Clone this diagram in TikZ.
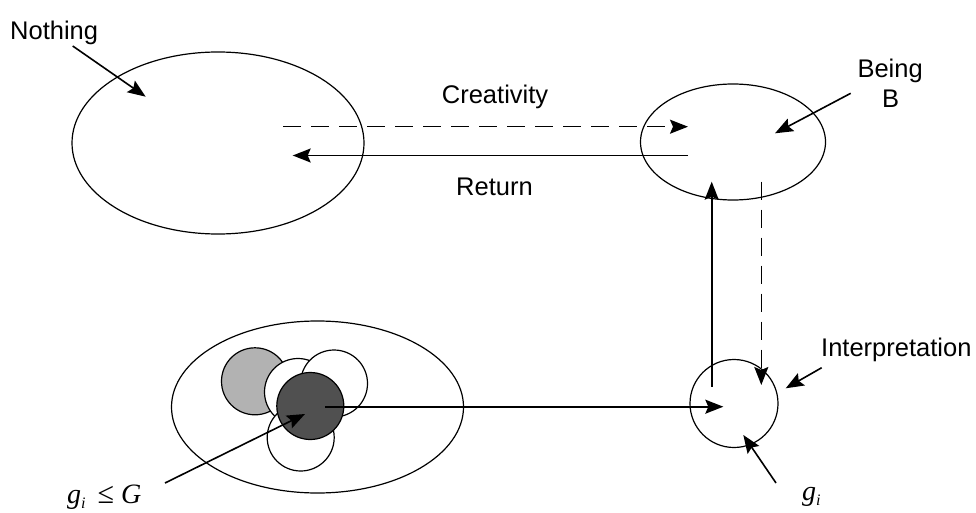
\documentclass[tikz,border=0pt]{standalone}
\usepackage{fontspec}
\setmainfont{Liberation Sans}
\newfontfamily\serifmath{Liberation Serif}
\usetikzlibrary{arrows.meta,shapes.geometric}
\definecolor{lightgrey}{RGB}{178,178,178}
\definecolor{darkgrey}{RGB}{80,80,80}
\tikzset{
  oval/.style={draw, ellipse, line width=1.2pt, inner sep=0pt},
  ball/.style={draw, circle, line width=1.2pt, minimum size=67pt, inner sep=0pt, fill=white},
  arr/.style={line width=1.6pt, -{Stealth[length=18pt,width=14pt,inset=3pt]}},
  dasharr/.style={arr, dash pattern=on 18pt off 10pt},
  lbl/.style={font=\fontsize{25.5}{30}\selectfont, inner sep=0pt, anchor=base west},
  mlbl/.style={font=\serifmath\fontsize{28}{32}\selectfont, inner sep=0pt, anchor=base west},
}
\newcommand{\gsub}{\textit{g}\raisebox{-0.2em}{\fontsize{16}{16}\selectfont\textit{i}}}
\begin{document}
\begin{tikzpicture}[x=1pt,y=-1pt]
\useasboundingbox[fill=white] (0,0) rectangle (976,513);

% big shapes
\node[oval, minimum width=292pt, minimum height=182pt] (nothing) at (218,143) {};
\node[oval, minimum width=185pt, minimum height=116pt] (being) at (733,142) {};
\node[oval, minimum width=292pt, minimum height=172pt] (cluster) at (317.5,407) {};
\node[draw, circle, line width=1.2pt, minimum size=88pt, inner sep=0pt] (interp) at (734,403.5) {};

% cluster of balls
\node[ball, fill=lightgrey] (grey) at (255,381.3) {};
\node[ball] (mid) at (298,392) {};
\node[ball] (ur) at (334,383.5) {};
\node[ball] (bot) at (300.7,437.5) {};
\node[ball, fill=darkgrey] (dark) at (310.3,406) {};

% labels
\node[lbl] (nothinglbl) at (10,40) {Nothing};
\node[lbl] (creat) at (441.7,103.3) {Creativity};
\node[lbl] (ret) at (456,196) {Return};
\node[lbl] (beinglbl) at (857.3,77.3) {Being};
\node[lbl] (blbl) at (882,108) {B};
\node[lbl] (interplbl) at (821,356) {Interpretation};
\node[mlbl] (gileq) at (67,503) {\gsub\hspace{12pt}{\upshape\fontsize{30}{30}\selectfont ≤}\hspace{7pt}\textit{G}};
\node[mlbl] (gi) at (802,500) {\gsub};

% connector end points
\coordinate (nothingA) at (72.7,46);
\coordinate (nothingB) at (145.7,96.7);
\coordinate (creatA) at (283.3,126.7);
\coordinate (creatB) at (688,126.7);
\coordinate (retA) at (688,155.5);
\coordinate (retB) at (292.7,155.5);
\coordinate (beingA) at (850.7,93.3);
\coordinate (beingB) at (775,133.3);
\coordinate (upA) at (711.7,386.7);
\coordinate (upB) at (711.7,181.7);
\coordinate (downA) at (761.3,181.7);
\coordinate (downB) at (761.3,385);
\coordinate (horA) at (325,406.7);
\coordinate (horB) at (723.3,406.7);
\coordinate (interpA) at (821.7,367.7);
\coordinate (interpB) at (785.7,388.3);
\coordinate (giA) at (776,483);
\coordinate (giB) at (743.3,435);
\coordinate (gleqA) at (165,483);
\coordinate (gleqB) at (305,414);

% connectors
\draw[arr] (nothingA) -- (nothingB);
\draw[dasharr] (creatA) -- (creatB);
\draw[arr] (retA) -- (retB);
\draw[arr] (beingA) -- (beingB);
\draw[arr] (upA) -- (upB);
\draw[dasharr] (downA) -- (downB);
\draw[arr] (horA) -- (horB);
\draw[arr] (interpA) -- (interpB);
\draw[arr] (giA) -- (giB);
\draw[arr] (gleqA) -- (gleqB);
\end{tikzpicture}
\end{document}
